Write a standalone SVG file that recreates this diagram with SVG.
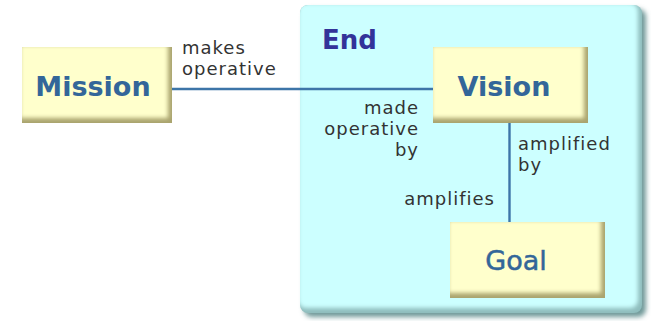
<svg xmlns="http://www.w3.org/2000/svg" width="651" height="321" viewBox="0 0 651 321">
  <style>
    .node-label { font-family: "DejaVu Sans", "Liberation Sans", sans-serif; font-size: 27px; fill: #336699; text-anchor: middle; }
    .bold { font-weight: bold; }
    .thin { stroke: #336699; stroke-width: 0.5px; }
    .role { font-family: "DejaVu Sans", "Liberation Sans", sans-serif; font-size: 18px; letter-spacing: 1px; fill: #333333; }
    .end-title { font-family: "DejaVu Sans", "Liberation Sans", sans-serif; font-size: 26px; font-weight: bold; fill: #333399; }
    .link { stroke: #3d75a8; stroke-width: 2.4; fill: none; }
    .box-edge { fill: #aaa46e; }
    .box-face { fill: #ffffcc; }
  </style>
  <defs>
    <filter id="soft" x="-10%" y="-10%" width="120%" height="120%">
      <feGaussianBlur stdDeviation="2.2"/>
    </filter>
    <filter id="shade" x="-10%" y="-10%" width="120%" height="120%">
      <feGaussianBlur stdDeviation="2.5"/>
    </filter>
    <clipPath id="clip-mission"><rect x="22" y="47" width="150" height="76"/></clipPath>
    <clipPath id="clip-vision"><rect x="433" y="47" width="155" height="76"/></clipPath>
    <clipPath id="clip-goal"><rect x="450" y="222" width="155" height="76"/></clipPath>
    <clipPath id="clip-end"><rect x="300" y="5" width="342" height="308" rx="8"/></clipPath>
  </defs>

  <rect width="651" height="321" fill="#ffffff"/>

  <!-- End container: rounded panel with a soft drop shadow -->
  <g id="end">
    <rect x="304" y="9" width="342" height="308" rx="8" fill="#6f9999" filter="url(#shade)"/>
    <g clip-path="url(#clip-end)">
      <rect x="300" y="5" width="342" height="308" fill="#8fbdbd"/>
      <rect x="298" y="3" width="340" height="305" rx="8" fill="#ccffff" filter="url(#soft)"/>
    </g>
    <text class="end-title" x="322" y="49">End</text>
  </g>

  <!-- Connectors and their role labels -->
  <g id="connectors">
    <line class="link" x1="172" y1="89" x2="433" y2="89"/>
    <line class="link" x1="509.5" y1="122" x2="509.5" y2="222"/>
    <text class="role" x="182" y="54">makes<tspan x="182" dy="21">operative</tspan></text>
    <text class="role" text-anchor="end" x="419" y="114">made<tspan x="419" dy="21">operative</tspan><tspan x="419" dy="21">by</tspan></text>
    <text class="role" x="518" y="149.5">amplified<tspan x="518" dy="21">by</tspan></text>
    <text class="role" x="495" y="205" text-anchor="end">amplifies</text>
  </g>

  <!-- Mission node -->
  <g id="mission">
    <g clip-path="url(#clip-mission)">
      <rect class="box-edge" x="22" y="47" width="150" height="76"/>
      <rect class="box-face" x="20" y="45" width="148" height="73" filter="url(#soft)"/>
    </g>
    <text class="node-label bold" x="93" y="95.5">Mission</text>
  </g>

  <!-- Vision node -->
  <g id="vision">
    <g clip-path="url(#clip-vision)">
      <rect class="box-edge" x="433" y="47" width="155" height="76"/>
      <rect class="box-face" x="431" y="45" width="153" height="73" filter="url(#soft)"/>
    </g>
    <text class="node-label bold" x="504" y="95.5">Vision</text>
  </g>

  <!-- Goal node -->
  <g id="goal">
    <g clip-path="url(#clip-goal)">
      <rect class="box-edge" x="450" y="222" width="155" height="76"/>
      <rect class="box-face" x="448" y="220" width="153" height="73" filter="url(#soft)"/>
    </g>
    <text class="node-label thin" x="516" y="269.5">Goal</text>
  </g>
</svg>
